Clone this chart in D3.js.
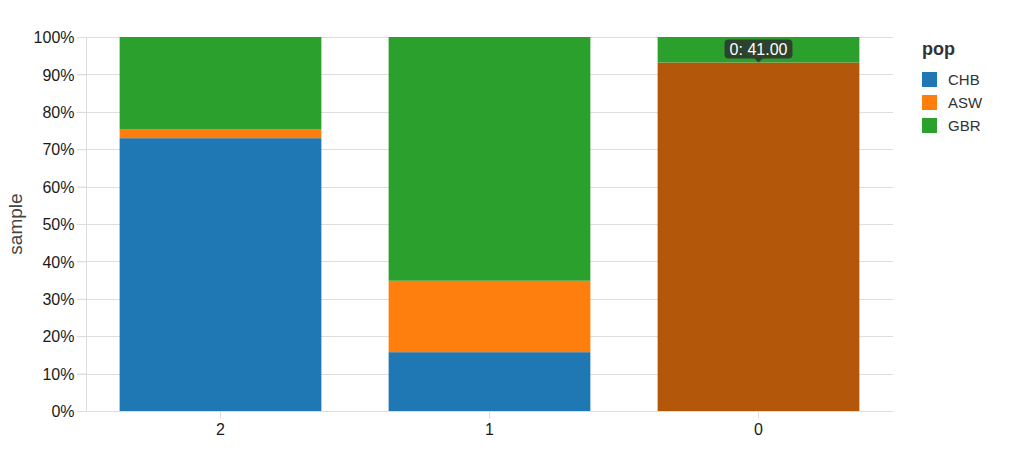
<!DOCTYPE html>
<html lang="en">
<head>
    <meta charset="UTF-8">
    <title>Index</title>
    <script src="https://cdn.jsdelivr.net/npm/d3@7"></script>
    <style>
        body {
            margin: 0;
            background: #fff;
            font-family: 'Liberation Sans', Arial, sans-serif;
        }
        .grid line { stroke: #ddd; }
        .axis text { font-size: 16px; fill: #1a1a1a; }
        .axis path, .axis line { stroke: #ddd; }
    </style>
</head>
<body>
    <div id="chart"></div>
    <script>
        // sample counts per cluster
        const clusters = ["2", "1", "0"];
        const pops = ["CHB", "ASW", "GBR"];
        const chb = [89, 14, 0];
        const asw = [3, 17, 41];
        const gbr = [30, 58, 3];
        const colors = ["#1f77b4", "#ff7f0e", "#2ca02c"];
        const yTicks = [0, 0.1, 0.2, 0.3, 0.4, 0.5, 0.6, 0.7, 0.8, 0.9, 1];

        const width = 1024, height = 459;
        const margin = {top: 37, right: 131, bottom: 48, left: 86};

        let svg = d3.select('#chart')
            .append("svg")
            .attr("width", width)
            .attr("height", height);

        let rows = clusters.map((c, i) => ({cluster: c, CHB: chb[i], ASW: asw[i], GBR: gbr[i]}));
        let stacked = d3.stack().keys(pops).offset(d3.stackOffsetExpand)(rows);

        let x = d3.scaleBand()
            .domain(clusters)
            .range([margin.left, width - margin.right])
            .paddingInner(0.25)
            .paddingOuter(0.125);

        let y = d3.scaleLinear()
            .domain([0, 1])
            .range([height - margin.bottom, margin.top]);

        let color = d3.scaleOrdinal().domain(pops).range(colors);

        // grid
        svg.append("g")
            .attr("class", "grid")
            .selectAll("line")
            .data(yTicks)
            .enter()
            .append("line")
            .attr("x1", margin.left - 9)
            .attr("x2", width - margin.right)
            .attr("y1", d => Math.round(y(d)) + 0.5)
            .attr("y2", d => Math.round(y(d)) + 0.5);

        // y axis
        let yAxis = svg.append("g")
            .attr("class", "axis")
            .attr("transform", `translate(${margin.left + 0.5},0)`)
            .call(d3.axisLeft(y).tickValues(yTicks).tickFormat(d3.format(".0%")).tickSize(9).tickPadding(3));
        yAxis.select(".domain").attr("d", `M0,${y(1)}V${y(0)}`);
        yAxis.selectAll("text").attr("dy", "0.36em");

        // bars
        svg.append("g")
            .selectAll("g")
            .data(stacked)
            .enter()
            .append("g")
            .selectAll("rect")
            .data(d => d.map(v => Object.assign(v, {key: d.key})))
            .enter()
            .append("rect")
            .attr("x", d => x(d.data.cluster))
            .attr("y", d => y(d[1]))
            .attr("width", x.bandwidth())
            .attr("height", d => y(d[0]) - y(d[1]))
            .attr("fill", d => (d.data.cluster === "0" && d.key === "ASW") ? "#b3580a" : color(d.key));

        // x axis
        let xAxis = svg.append("g")
            .attr("class", "axis")
            .attr("transform", `translate(0,${Math.round(y(0)) + 0.5})`)
            .call(d3.axisBottom(x).tickSize(7).tickPadding(5));
        xAxis.select(".domain").attr("d", `M${margin.left},0H${width - margin.right}`);

        // y label
        svg.append("text")
            .attr("transform", `translate(22,${(y(0) + y(1)) / 2}) rotate(-90)`)
            .attr("text-anchor", "middle")
            .attr("font-size", 19)
            .attr("fill", "#444")
            .text("sample");

        // legend
        let legend = svg.append("g").attr("transform", "translate(922,0)");
        legend.append("text")
            .attr("x", 0)
            .attr("y", 55)
            .attr("font-size", 18)
            .attr("font-weight", "bold")
            .attr("fill", "#333")
            .text("pop");
        pops.forEach((p, i) => {
            legend.append("rect")
                .attr("x", 0)
                .attr("y", 72 + i * 23)
                .attr("width", 15)
                .attr("height", 15)
                .attr("fill", color(p));
            legend.append("text")
                .attr("x", 26)
                .attr("y", 79.5 + i * 23)
                .attr("dy", "0.36em")
                .attr("font-size", 15)
                .attr("fill", "#333")
                .text(p);
        });

        // tooltip on hovered segment
        let hov = stacked[1][2];
        let tx = x("0") + x.bandwidth() / 2;
        let ty = y(hov[1]);
        let label = "0: " + d3.format(".2f")(asw[2]);
        let tip = svg.append("g").attr("transform", `translate(${tx},${ty})`);
        let tipText = tip.append("text")
            .attr("x", 0)
            .attr("y", -8)
            .attr("text-anchor", "middle")
            .attr("font-size", 16)
            .attr("fill", "#fff")
            .text(label);
        let bw = tipText.node().getBBox().width + 10;
        let bh = 19, r = 4, t0 = -23;
        let hw = bw / 2;
        tip.insert("path", "text")
            .attr("d", `M${-hw + r},${t0}H${hw - r}Q${hw},${t0} ${hw},${t0 + r}V${t0 + bh - r}Q${hw},${t0 + bh} ${hw - r},${t0 + bh}` +
                `H4L0,${t0 + bh + 4}L-4,${t0 + bh}H${-hw + r}Q${-hw},${t0 + bh} ${-hw},${t0 + bh - r}V${t0 + r}Q${-hw},${t0} ${-hw + r},${t0}Z`)
            .attr("fill", "rgba(45,45,45,0.82)");
    </script>
</body>
</html>
